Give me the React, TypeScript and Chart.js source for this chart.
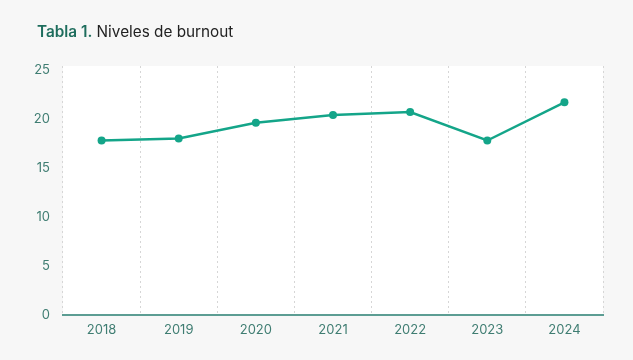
import React, { useEffect, useRef } from "react";
import { Chart, registerables } from "chart.js";

Chart.register(...registerables);

const years = ["2018", "2019", "2020", "2021", "2022", "2023", "2024"];
const burnout = [17.8, 18.0, 19.6, 20.4, 20.7, 17.8, 21.7];
const yTicks = [0, 5, 10, 15, 20, 25];

const bgPlugin = {
  id: "plotBg",
  beforeDraw(chart: any) {
    const { ctx, chartArea } = chart;
    ctx.save();
    ctx.fillStyle = "#ffffff";
    ctx.fillRect(chartArea.left, chartArea.top, chartArea.right - chartArea.left, chartArea.bottom - chartArea.top);
    ctx.restore();
  },
};

export default function App() {
  const ref = useRef<HTMLCanvasElement | null>(null);
  useEffect(() => {
    if (!ref.current) return;
    const chart = new Chart(ref.current, {
      type: "line",
      data: {
        labels: years,
        datasets: [
          {
            data: burnout,
            borderColor: "#14a589",
            backgroundColor: "#14a589",
            borderWidth: 2.5,
            pointRadius: 4,
            pointBackgroundColor: "#14a589",
            pointBorderWidth: 0,
            tension: 0,
          },
        ],
      },
      options: {
        animation: false,
        responsive: false,
        layout: { padding: { top: 66, right: 30, left: 0, bottom: 0 } },
        plugins: { legend: { display: false }, tooltip: { enabled: false }, title: { display: false } },
        scales: {
          x: {
            offset: true,
            grid: { display: true, offset: true, color: "#d6d6d6", lineWidth: 1, drawTicks: false },
            border: { display: true, color: "#5c9d93", width: 2, dash: [2, 3] },
            ticks: { color: "#3f7d72", font: { family: "Inter", size: 13 }, padding: 7 },
            afterFit(scale: any) {
              scale.height = 45;
            },
          },
          y: {
            min: 0,
            max: 25.4,
            grid: { display: false, drawTicks: false },
            border: { display: false },
            ticks: { color: "#3f7d72", font: { family: "Inter", size: 13 }, padding: 13 },
            afterBuildTicks(scale: any) {
              scale.ticks = yTicks.map((v) => ({ value: v }));
            },
            afterFit(scale: any) {
              scale.width = 63;
            },
          },
        },
      },
      plugins: [bgPlugin],
    });
    return () => chart.destroy();
  }, []);

  return (
    <div style={{ position: "fixed", left: 0, top: 0, width: 633, height: 360, background: "#f7f7f7" }}>
      <canvas ref={ref} width={633} height={360} style={{ position: "absolute", left: 0, top: 0 }} />
      <div
        style={{
          position: "absolute",
          left: 37,
          top: 22,
          fontFamily: "Inter, sans-serif",
          fontSize: 15.3,
          color: "#222222",
          whiteSpace: "nowrap",
        }}
      >
        <span style={{ fontWeight: 600, color: "#1e6d5d" }}>Tabla 1.</span> Niveles de burnout
      </div>
    </div>
  );
}
